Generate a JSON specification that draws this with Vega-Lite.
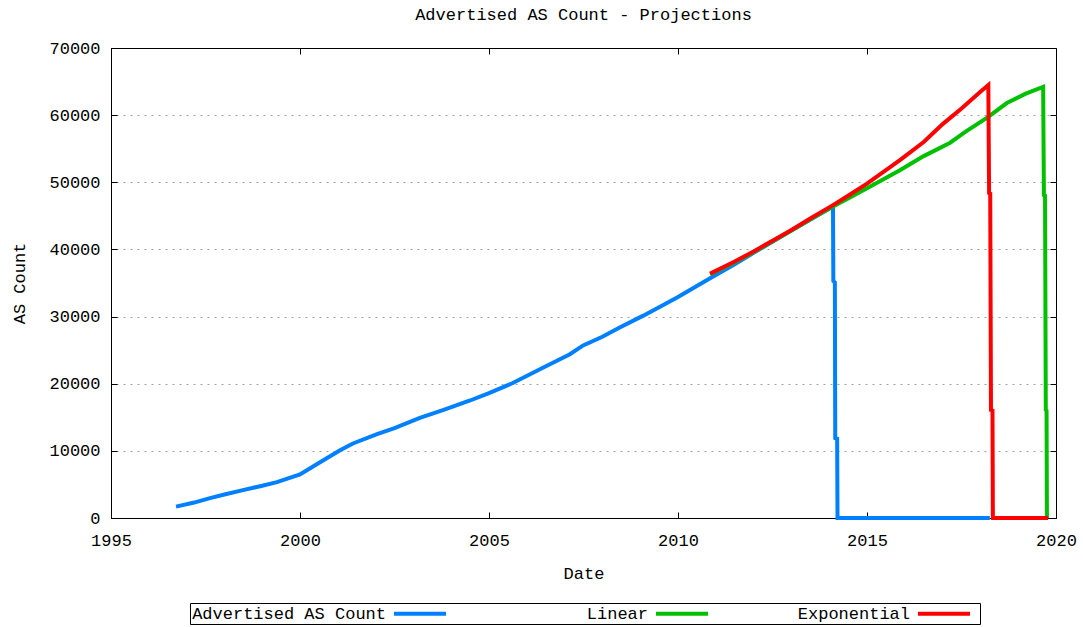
{
  "$schema": "https://vega.github.io/schema/vega-lite/v6.json",
  "width": 945,
  "height": 470,
  "autosize": {"type": "none"},
  "padding": {"left": 111, "top": 48, "right": 27, "bottom": 109},
  "background": "white",
  "config": {
    "view": {"stroke": "black", "strokeWidth": 1},
    "font": "Liberation Mono"
  },
  "title": {
    "text": "Advertised AS Count - Projections",
    "font": "Liberation Mono",
    "fontSize": 17,
    "fontWeight": "normal",
    "color": "black",
    "offset": 15
  },
  "data": {
    "values": [
      {"series": "Advertised AS Count", "Date": 1996.72, "count": 1700},
      {"series": "Advertised AS Count", "Date": 1997.2, "count": 2300},
      {"series": "Advertised AS Count", "Date": 1997.62, "count": 2950},
      {"series": "Advertised AS Count", "Date": 1998.0, "count": 3500},
      {"series": "Advertised AS Count", "Date": 1998.49, "count": 4150},
      {"series": "Advertised AS Count", "Date": 1999.0, "count": 4800},
      {"series": "Advertised AS Count", "Date": 1999.39, "count": 5350},
      {"series": "Advertised AS Count", "Date": 2000.0, "count": 6500},
      {"series": "Advertised AS Count", "Date": 2000.53, "count": 8300},
      {"series": "Advertised AS Count", "Date": 2001.06, "count": 10100},
      {"series": "Advertised AS Count", "Date": 2001.4, "count": 11100},
      {"series": "Advertised AS Count", "Date": 2002.04, "count": 12500},
      {"series": "Advertised AS Count", "Date": 2002.5, "count": 13400},
      {"series": "Advertised AS Count", "Date": 2003.17, "count": 14900},
      {"series": "Advertised AS Count", "Date": 2003.8, "count": 16100},
      {"series": "Advertised AS Count", "Date": 2004.5, "count": 17500},
      {"series": "Advertised AS Count", "Date": 2005.0, "count": 18600},
      {"series": "Advertised AS Count", "Date": 2005.63, "count": 20100},
      {"series": "Advertised AS Count", "Date": 2006.4, "count": 22300},
      {"series": "Advertised AS Count", "Date": 2007.14, "count": 24400},
      {"series": "Advertised AS Count", "Date": 2007.49, "count": 25700},
      {"series": "Advertised AS Count", "Date": 2008.0, "count": 27000},
      {"series": "Advertised AS Count", "Date": 2008.47, "count": 28400},
      {"series": "Advertised AS Count", "Date": 2009.07, "count": 30100},
      {"series": "Advertised AS Count", "Date": 2009.5, "count": 31400},
      {"series": "Advertised AS Count", "Date": 2010.0, "count": 32900},
      {"series": "Advertised AS Count", "Date": 2010.85, "count": 35700},
      {"series": "Advertised AS Count", "Date": 2011.5, "count": 37800},
      {"series": "Advertised AS Count", "Date": 2012.0, "count": 39500},
      {"series": "Advertised AS Count", "Date": 2013.0, "count": 42800},
      {"series": "Advertised AS Count", "Date": 2014.1, "count": 46400},
      {"series": "Advertised AS Count", "Date": 2014.11, "count": 35300},
      {"series": "Advertised AS Count", "Date": 2014.15, "count": 35100},
      {"series": "Advertised AS Count", "Date": 2014.16, "count": 11900},
      {"series": "Advertised AS Count", "Date": 2014.21, "count": 11800},
      {"series": "Advertised AS Count", "Date": 2014.22, "count": 0},
      {"series": "Advertised AS Count", "Date": 2018.25, "count": 0},
      {"series": "Linear", "Date": 2010.85, "count": 36300},
      {"series": "Linear", "Date": 2011.5, "count": 38100},
      {"series": "Linear", "Date": 2012.0, "count": 39600},
      {"series": "Linear", "Date": 2012.5, "count": 41200},
      {"series": "Linear", "Date": 2013.0, "count": 42800},
      {"series": "Linear", "Date": 2013.5, "count": 44500},
      {"series": "Linear", "Date": 2014.1, "count": 46400},
      {"series": "Linear", "Date": 2014.5, "count": 47600},
      {"series": "Linear", "Date": 2015.0, "count": 49100},
      {"series": "Linear", "Date": 2015.87, "count": 51800},
      {"series": "Linear", "Date": 2016.5, "count": 53900},
      {"series": "Linear", "Date": 2017.2, "count": 55900},
      {"series": "Linear", "Date": 2017.6, "count": 57500},
      {"series": "Linear", "Date": 2018.17, "count": 59600},
      {"series": "Linear", "Date": 2018.7, "count": 61800},
      {"series": "Linear", "Date": 2019.2, "count": 63200},
      {"series": "Linear", "Date": 2019.66, "count": 64200},
      {"series": "Linear", "Date": 2019.68, "count": 48100},
      {"series": "Linear", "Date": 2019.71, "count": 48000},
      {"series": "Linear", "Date": 2019.73, "count": 16100},
      {"series": "Linear", "Date": 2019.75, "count": 16000},
      {"series": "Linear", "Date": 2019.76, "count": 0},
      {"series": "Exponential", "Date": 2010.85, "count": 36400},
      {"series": "Exponential", "Date": 2011.5, "count": 38200},
      {"series": "Exponential", "Date": 2012.0, "count": 39700},
      {"series": "Exponential", "Date": 2012.5, "count": 41300},
      {"series": "Exponential", "Date": 2013.0, "count": 42900},
      {"series": "Exponential", "Date": 2013.5, "count": 44600},
      {"series": "Exponential", "Date": 2014.1, "count": 46600},
      {"series": "Exponential", "Date": 2014.5, "count": 48000},
      {"series": "Exponential", "Date": 2015.0, "count": 49800},
      {"series": "Exponential", "Date": 2015.5, "count": 51800},
      {"series": "Exponential", "Date": 2015.87, "count": 53300},
      {"series": "Exponential", "Date": 2016.5, "count": 56000},
      {"series": "Exponential", "Date": 2017.01, "count": 58700},
      {"series": "Exponential", "Date": 2017.5, "count": 61000},
      {"series": "Exponential", "Date": 2018.0, "count": 63500},
      {"series": "Exponential", "Date": 2018.21, "count": 64500},
      {"series": "Exponential", "Date": 2018.23, "count": 48400},
      {"series": "Exponential", "Date": 2018.26, "count": 48300},
      {"series": "Exponential", "Date": 2018.28, "count": 16100},
      {"series": "Exponential", "Date": 2018.32, "count": 16000},
      {"series": "Exponential", "Date": 2018.33, "count": 0},
      {"series": "Exponential", "Date": 2019.79, "count": 0}
    ]
  },
  "resolve": {"axis": {"x": "independent", "y": "independent"}},
  "layer": [
    {
      "transform": [{"filter": "datum.series === 'Advertised AS Count'"}],
      "mark": {"type": "line", "strokeWidth": 4, "clip": false},
      "encoding": {
        "x": {
          "field": "Date", "type": "quantitative",
          "scale": {"domain": [1995, 2020], "nice": false, "zero": false},
          "axis": {
            "title": "Date", "format": "d",
            "values": [1995, 2000, 2005, 2010, 2015, 2020],
            "grid": false, "tickSize": -6, "tickColor": "black", "domainColor": "black",
            "labelFont": "Liberation Mono", "labelFontSize": 17, "labelColor": "black", "labelPadding": 20,
            "labelFlush": false,
            "titleFont": "Liberation Mono", "titleFontSize": 17, "titleFontWeight": "normal", "titleColor": "black", "titlePadding": 17
          }
        },
        "y": {
          "field": "count", "type": "quantitative",
          "scale": {"domain": [0, 70000], "nice": false},
          "axis": {
            "title": "AS Count", "format": "d",
            "values": [0, 10000, 20000, 30000, 40000, 50000, 60000, 70000],
            "grid": false,
            "tickSize": -6, "tickColor": "black", "domainColor": "black",
            "labelFont": "Liberation Mono", "labelFontSize": 17, "labelColor": "black", "labelPadding": 17,
            "labelFlush": false,
            "titleFont": "Liberation Mono", "titleFontSize": 17, "titleFontWeight": "normal", "titleColor": "black", "titlePadding": 20
          }
        },
        "color": {
          "field": "series", "type": "nominal",
          "scale": {"domain": ["Advertised AS Count", "Linear", "Exponential"], "range": ["#0080FF", "#00C000", "#FF0000"]},
          "legend": {
            "orient": "none", "legendX": 79, "legendY": 555,
            "direction": "horizontal", "columns": 3, "title": null,
            "symbolType": "M96.75,0H122.75", "symbolSize": 16, "symbolStrokeWidth": 4,
            "labelFont": "Liberation Mono", "labelFontSize": 17, "labelColor": "black", "labelLimit": 400,
            "labelOffset": 177, "labelAlign": "right",
            "fillColor": "white", "strokeColor": "black", "padding": 2,
            "gridAlign": "all", "columnPadding": -4
          }
        }
      }
    },
    {
      "transform": [{"filter": "datum.series === 'Linear'"}],
      "mark": {"type": "line", "strokeWidth": 4, "clip": false},
      "encoding": {
        "x": {
          "field": "Date", "type": "quantitative",
          "axis": {"orient": "top", "title": null, "labels": false, "domain": false, "grid": false,
                   "values": [1995, 2000, 2005, 2010, 2015, 2020], "tickSize": -6, "tickColor": "black"}
        },
        "y": {
          "field": "count", "type": "quantitative",
          "axis": {"orient": "right", "title": null, "labels": false, "domain": false,
                   "grid": true, "gridDash": [2, 5], "gridColor": "#a0a0a0", "gridWidth": 1,
                   "values": [10000, 20000, 30000, 40000, 50000, 60000], "tickSize": -6, "tickColor": "black"}
        },
        "color": {"field": "series", "type": "nominal"}
      }
    },
    {
      "transform": [{"filter": "datum.series === 'Exponential'"}],
      "mark": {"type": "line", "strokeWidth": 4, "clip": false},
      "encoding": {
        "x": {"field": "Date", "type": "quantitative", "axis": null},
        "y": {"field": "count", "type": "quantitative", "axis": null},
        "color": {"field": "series", "type": "nominal"}
      }
    }
  ]
}
